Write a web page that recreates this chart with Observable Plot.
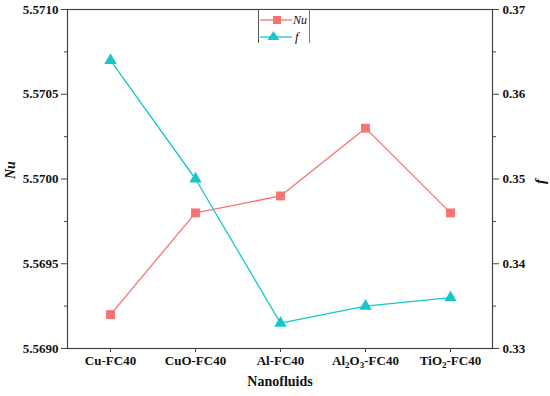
<!DOCTYPE html>
<html>
<head>
<meta charset="utf-8">
<script src="https://cdn.jsdelivr.net/npm/d3@7"></script>
<script src="https://cdn.jsdelivr.net/npm/@observablehq/plot@0.6"></script>
<style>
  html, body { margin: 0; padding: 0; background: #fff; }
  #wrap { position: relative; width: 550px; height: 396px; }
  #legend { position: absolute; left: 257px; top: 9px; }
</style>
</head>
<body>
<div id="wrap"></div>
<script>
const categories = ["Cu-FC40", "CuO-FC40", "Al-FC40", "Al2O3-FC40", "TiO2-FC40"];
const nuValues = [5.5692, 5.5698, 5.5699, 5.5703, 5.5698];
const fValues = [0.364, 0.350, 0.333, 0.335, 0.336];
const nuTicks = [5.5690, 5.5695, 5.5700, 5.5705, 5.5710];
const nuMinor = [5.56925, 5.56975, 5.57025, 5.57075];
const fTicks = [0.33, 0.34, 0.35, 0.36, 0.37];
const fMinor = [0.335, 0.345, 0.355, 0.365];

const red = "#f87272";
const cyan = "#16c6c8";
const fToNu = d3.scaleLinear([0.33, 0.37], [5.5690, 5.5710]);
const rows = categories.map((c, i) => ({cat: c, nu: nuValues[i], f: fValues[i]}));

const chart = Plot.plot({
  width: 550,
  height: 396,
  marginLeft: 67,
  marginRight: 58,
  marginTop: 9,
  marginBottom: 48,
  style: {fontFamily: "'Liberation Serif', 'Times New Roman', serif", fontSize: "13px", fontWeight: "bold", color: "#111"},
  x: {type: "point", domain: categories, padding: 0.5},
  y: {domain: [5.5690, 5.5710]},
  marks: [
    Plot.frame({stroke: "#444", strokeWidth: 1.2}),
    Plot.axisX({tickSize: 4, tickPadding: 3, label: null, stroke: "#444"}),
    Plot.axisY(nuTicks, {anchor: "left", tickSize: 6, tickPadding: 3, tickFormat: d3.format(".4f"), label: null, stroke: "#444"}),
    Plot.axisY(nuMinor, {anchor: "left", tickSize: 3, tickFormat: () => "", label: null, stroke: "#444"}),
    Plot.axisY(fTicks.map(fToNu), {anchor: "right", tickSize: 6, tickPadding: 4, tickFormat: d => d3.format(".2f")(fToNu.invert(d)), label: null, stroke: "#444"}),
    Plot.axisY(fMinor.map(fToNu), {anchor: "right", tickSize: 3, tickFormat: () => "", label: null, stroke: "#444"}),
    Plot.line(rows, {x: "cat", y: "nu", stroke: red, strokeWidth: 1.3}),
    Plot.dot(rows, {x: "cat", y: "nu", symbol: "square", r: 5, fill: red}),
    Plot.line(rows, {x: "cat", y: d => fToNu(d.f), stroke: cyan, strokeWidth: 1.3}),
    Plot.dot(rows, {x: "cat", y: d => fToNu(d.f), symbol: "triangle", r: 4.6, fill: cyan}),
    Plot.text(["Nu"], {text: d => d, frameAnchor: "left", dx: -57, rotate: -90, fontStyle: "italic", fontSize: 14, fontWeight: "bold"}),
    Plot.text(["f"], {text: d => d, frameAnchor: "right", dx: 48, rotate: -90, fontStyle: "italic", fontSize: 15, fontWeight: "bold"}),
    Plot.text(["Nanofluids"], {text: d => d, frameAnchor: "bottom", dy: 37, fontSize: 14, fontWeight: "bold"})
  ]
});

// subscripts in chemical formulas
chart.querySelectorAll("text").forEach(t => {
  const s = t.textContent;
  if (s === "Al2O3-FC40") {
    t.innerHTML = 'Al<tspan font-size="9" dy="3">2</tspan><tspan dy="-3">O</tspan><tspan font-size="9" dy="3">3</tspan><tspan dy="-3">-FC40</tspan>';
  } else if (s === "TiO2-FC40") {
    t.innerHTML = 'TiO<tspan font-size="9" dy="3">2</tspan><tspan dy="-3">-FC40</tspan>';
  }
});

const wrap = document.getElementById("wrap");
wrap.appendChild(chart);

// legend
const legend = document.createElementNS("http://www.w3.org/2000/svg", "svg");
legend.setAttribute("id", "legend");
legend.setAttribute("width", "54");
legend.setAttribute("height", "35");
legend.innerHTML = `
  <rect x="2" y="1" width="50" height="33" fill="#fff"></rect>
  <line x1="1.5" y1="0" x2="1.5" y2="34" stroke="#555" stroke-width="1"></line>
  <line x1="52.5" y1="0" x2="52.5" y2="34" stroke="#777" stroke-width="1"></line>
  <line x1="3" y1="11" x2="35" y2="11" stroke="${red}" stroke-width="1.3"></line>
  <rect x="16" y="7" width="8" height="8" fill="${red}"></rect>
  <text x="36" y="15" font-family="'Liberation Serif', serif" font-style="italic" font-size="12" fill="#111">Nu</text>
  <line x1="3" y1="28" x2="35" y2="28" stroke="${cyan}" stroke-width="1.3"></line>
  <path d="M16.5,22 L22.5,31 L10.5,31 Z" fill="${cyan}"></path>
  <text x="38" y="32" font-family="'Liberation Serif', serif" font-style="italic" font-size="13" fill="#111">f</text>
`;
wrap.appendChild(legend);
</script>
</body>
</html>
